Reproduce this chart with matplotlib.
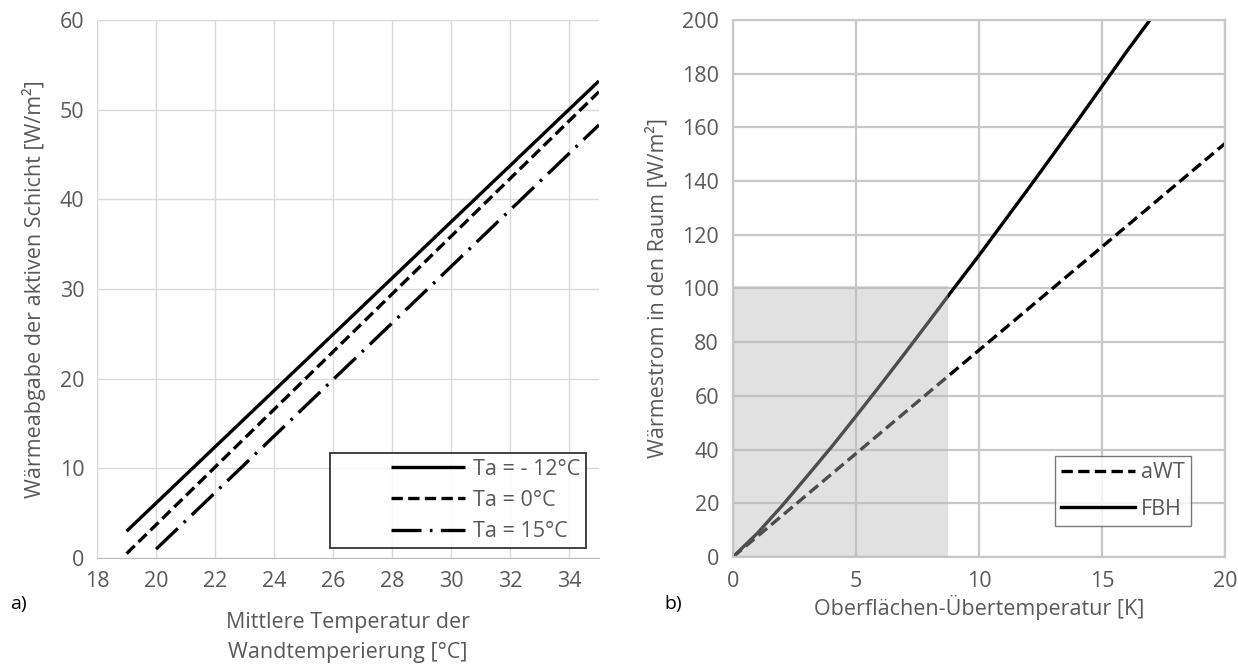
import numpy as np
import matplotlib.pyplot as plt
from matplotlib.patches import Rectangle
from matplotlib.lines import Line2D
from matplotlib.legend_handler import HandlerLine2D

plt.rcParams['font.family'] = ['Open Sans', 'DejaVu Sans']

# panel a) - Waermeabgabe der aktiven Schicht
t_wall_a = [19, 35]
q_m12 = [3.0, 53.2]
t_wall_b = [19, 35]
q_0 = [0.5, 52.0]
t_wall_c = [20, 35]
q_15 = [1.0, 48.3]
labels_a = ['Ta = - 12°C', 'Ta = 0°C', 'Ta = 15°C']

# panel b) - Waermestrom in den Raum
dt_awt = [0, 5, 10, 15, 20]
q_awt = [0, 38.5, 77, 115.5, 154]
dt_fbh = [0, 1, 2, 3, 4, 5, 6, 7, 8, 9, 10, 11, 12, 13, 14, 15, 16, 16.95]
q_fbh = [0, 8.9, 19.1, 29.9, 40.9, 52.4, 64.1, 76.0, 88.1, 100.3, 112.3,
         124.7, 137.1, 149.7, 162.4, 175.3, 188.2, 200]
shade_x = 8.75
shade_y = 101
labels_b = ['aWT', 'FBH']

txt = '#595959'
fs = 15.5
lfs = 15.5

fig = plt.figure(figsize=(12.38, 6.66), dpi=100)

#----- left panel
ax1 = fig.add_axes([0.0784, 0.162, 0.4054, 0.808])
ax1.plot(t_wall_a, q_m12, color='black', lw=2.4, solid_capstyle='butt', label=labels_a[0])
ax1.plot(t_wall_b, q_0, color='black', lw=2.4, dashes=(3.4, 1.6), label=labels_a[1])
ax1.plot(t_wall_c, q_15, color='black', lw=2.4, dashes=(9, 2.5, 0.8, 2.5), label=labels_a[2])
ax1.set_xlim(18, 35)
ax1.set_ylim(0, 60)
ax1.set_xticks(np.arange(18, 35, 2))
ax1.set_yticks(np.arange(0, 61, 10))
ax1.grid(True, color='#d9d9d9', lw=1)
ax1.set_axisbelow(True)
for s in ['top', 'right', 'left']:
    ax1.spines[s].set_visible(False)
ax1.spines['bottom'].set_color('#bfbfbf')
ax1.tick_params(length=0, labelsize=fs, colors=txt, pad=9)
ax1.set_ylabel('Wärmeabgabe der aktiven Schicht [W/m²]', fontsize=fs, color=txt, labelpad=10)
ax1.set_xlabel('Mittlere Temperatur der\nWandtemperierung [°C]', fontsize=fs, color=txt, labelpad=15, linespacing=1.55)
leg1 = ax1.legend(loc='lower right', bbox_to_anchor=(0.974, 0.019), fontsize=lfs, frameon=True, fancybox=False,
                  edgecolor='black', handlelength=6.0, handletextpad=0.37, labelspacing=0.47,
                  borderpad=0.27, borderaxespad=0, labelcolor=txt,
                  handler_map={Line2D: HandlerLine2D(xpad=2.56)})
leg1.get_frame().set_linewidth(1.3)

#----- right panel
ax2 = fig.add_axes([0.592, 0.1637, 0.3975, 0.8063])
ax2.plot(dt_awt, q_awt, color='black', lw=2.4, dashes=(3.4, 1.6), label=labels_b[0])
ax2.plot(dt_fbh, q_fbh, color='black', lw=2.4, label=labels_b[1])
ax2.add_patch(Rectangle((0, 0), shade_x, shade_y, facecolor='#b8b8b8', alpha=0.42,
                        edgecolor='none', zorder=5))
ax2.set_xlim(0, 20)
ax2.set_ylim(0, 200)
ax2.set_xticks(np.arange(0, 21, 5))
ax2.set_yticks(np.arange(0, 201, 20))
ax2.grid(True, color='#c8c8c8', lw=1.6)
ax2.set_axisbelow(True)
for s in ax2.spines.values():
    s.set_color('#c8c8c8')
    s.set_linewidth(1.6)
ax2.tick_params(length=0, labelsize=fs, colors=txt, pad=10)
ax2.set_ylabel('Wärmestrom in den Raum [W/m²]', fontsize=fs, color=txt, labelpad=10)
ax2.set_xlabel('Oberflächen-Übertemperatur [K]', fontsize=fs, color=txt, labelpad=2)
leg2 = ax2.legend(loc='lower right', bbox_to_anchor=(0.931, 0.058), fontsize=lfs, frameon=True, fancybox=False,
                  edgecolor='#595959', handlelength=3.4, handletextpad=0.3, labelspacing=0.72,
                  borderpad=0.29, borderaxespad=0, labelcolor=txt)
leg2.get_frame().set_linewidth(1.0)

fig.text(0.008, 0.085, 'a)', fontsize=14, color='black')
fig.text(0.537, 0.085, 'b)', fontsize=14, color='black')

fig.savefig('out.png', dpi=100, facecolor='white')
